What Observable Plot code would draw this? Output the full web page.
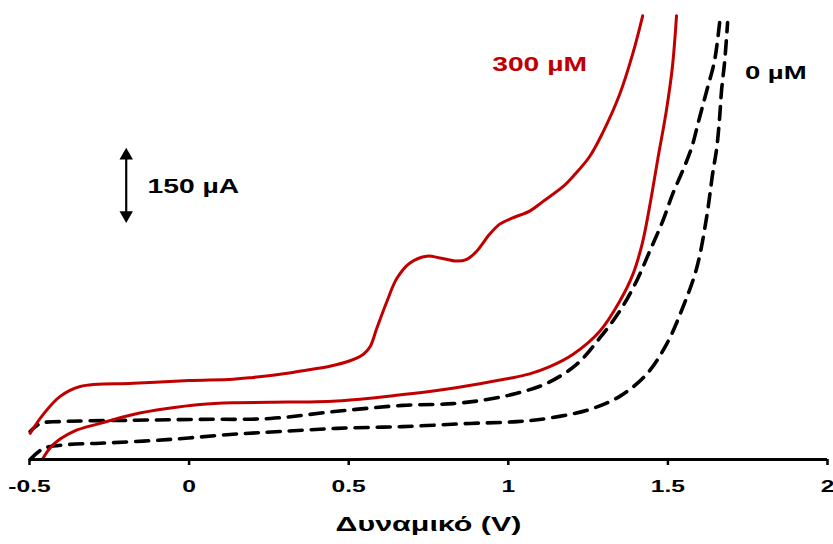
<!DOCTYPE html>
<html>
<head>
<meta charset="utf-8">
<script src="https://cdn.jsdelivr.net/npm/d3@7"></script>
<script src="https://cdn.jsdelivr.net/npm/@observablehq/plot@0.6"></script>
<style>
  html, body { margin: 0; padding: 0; background: #fff; }
  #chart { width: 833px; height: 544px; }
</style>
</head>
<body>
<div id="chart"></div>
<script>
// Potential (V) and current (µA)
const red300Forward_V = [-0.498,-0.457,-0.404,-0.341,-0.175,0,0.138,0.2,0.285,0.357,0.441,0.504,0.545,0.567,0.588,0.62,0.651,0.692,0.745,0.786,0.839,0.87,0.901,0.942,0.973,1.014,1.067,1.108,1.171,1.208,1.255,1.296,1.349,1.39,1.421];
const red300Forward_uA = [58,100,140,162,169,175,178,182,189,197,207,219,233,250,291,351,402,436,451,447,440,444,462,500,522,536,551,572,605,632,672,725,810,900,984];
const red300Reverse_V = [1.527,1.514,1.495,1.468,1.445,1.42,1.39,1.349,1.286,1.202,1.13,1.067,1.005,0.911,0.776,0.67,0.463,0.254,0.138,0.034,-0.069,-0.175,-0.279,-0.363,-0.426,-0.46];
const red300Reverse_uA = [984,870,773,665,570,480,410,351,284,233,206,190,180,168,153,144,130,127,126,122,113,100,80,62,33,0];
const blank0Forward_V = [-0.498,-0.457,-0.382,-0.279,-0.069,0.138,0.285,0.463,0.67,0.88,1.027,1.121,1.255,1.349,1.433,1.496,1.546,1.59,1.621,1.64,1.653,1.662,1.668,1.678,1.687];
const blank0Forward_uA = [0,24,33,36,44,56,62,69,73,80,84,91,111,140,189,256,336,424,536,633,691,758,818,884,969];
const blank0Reverse_V = [1.662,1.646,1.624,1.599,1.574,1.546,1.515,1.484,1.443,1.402,1.349,1.286,1.214,1.121,1.027,0.933,0.826,0.67,0.463,0.254,0.034,-0.175,-0.404,-0.466,-0.498];
const blank0Reverse_uA = [969,884,824,758,691,640,589,529,462,396,329,269,211,169,147,133,124,120,107,91,89,87,84,80,62];

const xTicks = [-0.5, 0, 0.5, 1, 1.5, 2];
const xTickLabels = ["-0.5", "0", "0.5", "1", "1.5", "2"];
const seriesLabels = ["300 µM", "0 µM"];
const scaleBar_uA = [533, 683];
const scaleBarLabel = "150 µA";
const xAxisTitle = "Δυναμικό (V)";

const RED = "#c00000";
const FONT = "'Liberation Sans', Arial, sans-serif";
const STRETCH = 1.45; // the reference's lettering is horizontally widened

function rows(vs, is, branch) { return vs.map((v, i) => ({v, i: is[i], branch})); }
const redData = [...rows(red300Forward_V, red300Forward_uA, "f"), ...rows(red300Reverse_V, red300Reverse_uA, "r")];
const blankData = [...rows(blank0Forward_V, blank0Forward_uA, "f"), ...rows(blank0Reverse_V, blank0Reverse_uA, "r")];

const barX = -0.197;
const barMid = (scaleBar_uA[0] + scaleBar_uA[1]) / 2;

const chart = Plot.plot({
  width: 833,
  height: 544,
  marginLeft: 29,
  marginRight: 6,
  marginTop: 0,
  marginBottom: 85,
  style: {fontFamily: FONT, background: "#fff", color: "#000"},
  x: {domain: [-0.5, 2]},
  y: {domain: [0, 1018], axis: null},
  marks: [
    Plot.line(blankData, {x: "v", y: "i", z: "branch", stroke: "#000", strokeWidth: 3.6, strokeDasharray: "13,9", curve: "catmull-rom"}),
    Plot.line(redData, {x: "v", y: "i", z: "branch", stroke: RED, strokeWidth: 3, curve: "catmull-rom"}),
    Plot.ruleY([0], {stroke: "#000", strokeWidth: 3}),
    Plot.axisX({ticks: xTicks, tickFormat: (d, i) => xTickLabels[i], tickSize: 6, tickPadding: 14, strokeWidth: 2.5, fontSize: 17, fontWeight: "bold", label: null}),
    Plot.text([xAxisTitle], {frameAnchor: "bottom", dy: 71, fontSize: 21, fontWeight: "bold", fill: "#000"}),
    // scale bar
    Plot.ruleX([barX], {y1: scaleBar_uA[0] + 10, y2: scaleBar_uA[1] - 10, stroke: "#000", strokeWidth: 2.2}),
    Plot.dot([scaleBar_uA[1]], {x: () => barX, y: d => d, symbol: "triangle", r: 5, fill: "#000", stroke: null, dy: 4}),
    Plot.dot([scaleBar_uA[0]], {x: () => barX, y: d => d, symbol: "triangle", r: 5, fill: "#000", stroke: null, rotate: 180, dy: -4}),
    Plot.text([scaleBarLabel], {x: () => -0.13, y: () => barMid - 2, textAnchor: "start", fontSize: 19.5, fontWeight: "bold", fill: "#000"}),
    Plot.text([seriesLabels[0]], {x: () => 1.098, y: () => 875, fontSize: 19.5, fontWeight: "bold", fill: RED}),
    Plot.text([seriesLabels[1]], {x: () => 1.838, y: () => 857, fontSize: 19, fontWeight: "bold", fill: "#000"})
  ]
});
document.getElementById("chart").appendChild(chart);

// widen all lettering horizontally about each text's anchor point
chart.querySelectorAll("text").forEach(el => {
  let b;
  try { b = el.getBBox(); } catch (e) { return; }
  if (!b || !Number.isFinite(b.x) || !Number.isFinite(b.width)) return;
  const anchor = getComputedStyle(el).textAnchor;
  const cx = anchor === "start" ? b.x : anchor === "end" ? b.x + b.width : b.x + b.width / 2;
  const t = el.getAttribute("transform") || "";
  el.setAttribute("transform", `${t} translate(${cx.toFixed(2)},0) scale(${STRETCH},1) translate(${(-cx).toFixed(2)},0)`.trim());
});
</script>
</body>
</html>
